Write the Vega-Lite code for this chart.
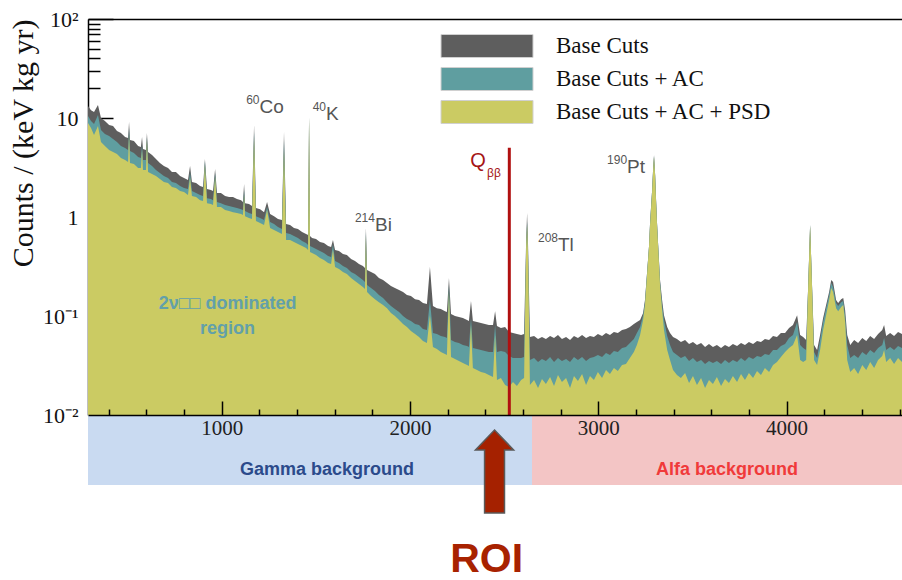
{
  "$schema": "https://vega.github.io/schema/vega-lite/v6.json",
  "padding": {"left": 8, "top": 8, "right": 0, "bottom": 0},
  "spacing": 0,
  "bounds": "flush",
  "config": {"view": {"stroke": null}, "background": "#ffffff"},
  "datasets": {
    "spec": [
      {"E":290,"b":13.2,"a":10.5,"p":8.90},{"E":306,"b":12.0,"a":9.33,"p":7.92},{"E":322,"b":11.5,"a":8.70,"p":6.73},{"E":343,"b":13.5,"a":10.7,"p":8.30},
      {"E":359,"b":10.0,"a":7.56,"p":5.72},{"E":380,"b":9.33,"a":6.89,"p":5.21},{"E":402,"b":8.50,"a":6.58,"p":4.75},{"E":423,"b":8.30,"a":6.13,"p":4.53},
      {"E":444,"b":7.39,"a":5.72,"p":4.33},{"E":465,"b":7.05,"a":5.21,"p":3.94},{"E":487,"b":6.43,"a":4.98,"p":3.76},{"E":503,"b":6.28,"a":4.75,"p":3.59},
      {"E":508,"b":9.11,"a":7.92,"p":6.73},{"E":513,"b":5.99,"a":4.64,"p":3.51},{"E":534,"b":5.86,"a":4.43,"p":3.43},{"E":556,"b":5.21,"a":4.04,"p":3.13},
      {"E":571,"b":5.09,"a":3.94,"p":3.13},{"E":577,"b":6.43,"a":5.34,"p":4.75},{"E":582,"b":4.86,"a":3.76,"p":2.98},{"E":598,"b":4.75,"a":3.76,"p":2.98},
      {"E":603,"b":7.05,"a":6.43,"p":5.99},{"E":609,"b":4.53,"a":3.51,"p":2.85},{"E":630,"b":4.23,"a":3.27,"p":2.72},{"E":651,"b":3.85,"a":2.98,"p":2.60},
      {"E":672,"b":3.51,"a":2.78,"p":2.42},{"E":693,"b":3.27,"a":2.60,"p":2.26},{"E":715,"b":3.13,"a":2.48,"p":2.21},{"E":736,"b":2.85,"a":2.26,"p":2.01},
      {"E":757,"b":2.85,"a":2.21,"p":1.96},{"E":779,"b":2.60,"a":2.06,"p":1.83},{"E":800,"b":2.48,"a":1.96,"p":1.79},{"E":821,"b":2.37,"a":1.92,"p":1.67},
      {"E":832,"b":3.27,"a":2.85,"p":2.48},{"E":842,"b":2.26,"a":1.83,"p":1.63},{"E":864,"b":2.21,"a":1.75,"p":1.59},{"E":885,"b":2.06,"a":1.67,"p":1.48},
      {"E":901,"b":2.01,"a":1.63,"p":1.45},{"E":911,"b":3.85,"a":3.68,"p":3.35},{"E":922,"b":1.92,"a":1.55,"p":1.38},{"E":943,"b":1.87,"a":1.52,"p":1.35},
      {"E":954,"b":1.83,"a":1.48,"p":1.32},{"E":965,"b":3.05,"a":2.78,"p":2.54},{"E":975,"b":1.75,"a":1.42,"p":1.26},{"E":996,"b":1.75,"a":1.38,"p":1.26},
      {"E":1018,"b":1.63,"a":1.32,"p":1.18},{"E":1039,"b":1.59,"a":1.29,"p":1.15},{"E":1060,"b":1.59,"a":1.26,"p":1.12},{"E":1081,"b":1.52,"a":1.23,"p":1.10},
      {"E":1103,"b":1.48,"a":1.20,"p":1.07},{"E":1113,"b":1.42,"a":1.18,"p":1.05},{"E":1119,"b":2.15,"a":1.87,"p":1.67},{"E":1124,"b":1.38,"a":1.15,"p":1.02},
      {"E":1145,"b":1.35,"a":1.10,"p":0.977},{"E":1161,"b":1.29,"a":1.07,"p":0.955},{"E":1172,"b":8.50,"a":7.22,"p":6.28},{"E":1182,"b":1.23,"a":1.02,"p":0.911},
      {"E":1204,"b":1.20,"a":0.977,"p":0.870},{"E":1225,"b":1.12,"a":0.933,"p":0.830},{"E":1241,"b":1.42,"a":1.26,"p":1.18},{"E":1257,"b":1.07,"a":0.890,"p":0.774},
      {"E":1278,"b":1.02,"a":0.850,"p":0.739},{"E":1299,"b":0.955,"a":0.792,"p":0.705},{"E":1320,"b":0.933,"a":0.756,"p":0.673},{"E":1331,"b":7.22,"a":5.99,"p":4.75},
      {"E":1342,"b":0.850,"a":0.689,"p":0.586},{"E":1363,"b":0.830,"a":0.673,"p":0.586},{"E":1384,"b":0.774,"a":0.643,"p":0.559},{"E":1405,"b":0.756,"a":0.613,"p":0.534},
      {"E":1427,"b":0.705,"a":0.572,"p":0.509},{"E":1448,"b":0.673,"a":0.546,"p":0.486},{"E":1459,"b":0.658,"a":0.521,"p":0.464},{"E":1464,"b":10.2,"a":10.2,"p":10.0},
      {"E":1469,"b":0.643,"a":0.509,"p":0.443},{"E":1480,"b":0.613,"a":0.498,"p":0.433},{"E":1501,"b":0.599,"a":0.475,"p":0.413},{"E":1522,"b":0.559,"a":0.453,"p":0.385},
      {"E":1543,"b":0.546,"a":0.433,"p":0.368},{"E":1565,"b":0.509,"a":0.404,"p":0.343},{"E":1581,"b":0.498,"a":0.394,"p":0.335},{"E":1591,"b":0.586,"a":0.534,"p":0.464},
      {"E":1602,"b":0.464,"a":0.359,"p":0.313},{"E":1623,"b":0.453,"a":0.343,"p":0.298},{"E":1644,"b":0.423,"a":0.320,"p":0.278},{"E":1665,"b":0.413,"a":0.305,"p":0.266},
      {"E":1687,"b":0.376,"a":0.278,"p":0.242},{"E":1708,"b":0.359,"a":0.266,"p":0.226},{"E":1729,"b":0.335,"a":0.248,"p":0.210},{"E":1750,"b":0.320,"a":0.231,"p":0.196},
      {"E":1761,"b":0.305,"a":0.221,"p":0.187},{"E":1766,"b":0.774,"a":0.705,"p":0.643},{"E":1772,"b":0.292,"a":0.206,"p":0.175},{"E":1793,"b":0.278,"a":0.192,"p":0.159},
      {"E":1814,"b":0.266,"a":0.179,"p":0.148},{"E":1835,"b":0.242,"a":0.163,"p":0.138},{"E":1857,"b":0.231,"a":0.152,"p":0.129},{"E":1878,"b":0.215,"a":0.138,"p":0.120},
      {"E":1899,"b":0.201,"a":0.126,"p":0.107},{"E":1920,"b":0.192,"a":0.118,"p":0.100},{"E":1942,"b":0.183,"a":0.110,"p":0.0911},{"E":1963,"b":0.175,"a":0.100,"p":0.0830},
      {"E":1984,"b":0.163,"a":0.0933,"p":0.0774},{"E":2005,"b":0.159,"a":0.0890,"p":0.0705},{"E":2027,"b":0.148,"a":0.0830,"p":0.0658},{"E":2048,"b":0.145,"a":0.0811,"p":0.0613},
      {"E":2069,"b":0.135,"a":0.0739,"p":0.0559},{"E":2090,"b":0.132,"a":0.0722,"p":0.0534},{"E":2106,"b":0.313,"a":0.145,"p":0.102},{"E":2122,"b":0.126,"a":0.0673,"p":0.0486},
      {"E":2143,"b":0.120,"a":0.0658,"p":0.0464},{"E":2164,"b":0.118,"a":0.0628,"p":0.0433},{"E":2186,"b":0.112,"a":0.0613,"p":0.0413},{"E":2196,"b":0.110,"a":0.0599,"p":0.0404},
      {"E":2207,"b":0.242,"a":0.206,"p":0.175},{"E":2218,"b":0.105,"a":0.0572,"p":0.0385},{"E":2239,"b":0.100,"a":0.0546,"p":0.0368},{"E":2260,"b":0.0977,"a":0.0534,"p":0.0351},
      {"E":2281,"b":0.0955,"a":0.0509,"p":0.0335},{"E":2303,"b":0.0911,"a":0.0498,"p":0.0320},{"E":2313,"b":0.0890,"a":0.0486,"p":0.0313},{"E":2324,"b":0.142,"a":0.0955,"p":0.0811},
      {"E":2334,"b":0.0890,"a":0.0475,"p":0.0298},{"E":2356,"b":0.0870,"a":0.0464,"p":0.0285},{"E":2377,"b":0.0850,"a":0.0453,"p":0.0272},{"E":2398,"b":0.0830,"a":0.0443,"p":0.0266},
      {"E":2419,"b":0.0811,"a":0.0433,"p":0.0254},{"E":2441,"b":0.0811,"a":0.0433,"p":0.0242},{"E":2452,"b":0.112,"a":0.0811,"p":0.0643},{"E":2462,"b":0.0792,"a":0.0433,"p":0.0226},
      {"E":2483,"b":0.0756,"a":0.0443,"p":0.0237},{"E":2505,"b":0.0774,"a":0.0433,"p":0.0201},{"E":2526,"b":0.0689,"a":0.0394,"p":0.0192},{"E":2547,"b":0.0673,"a":0.0376,"p":0.0215},
      {"E":2568,"b":0.0658,"a":0.0376,"p":0.0196},{"E":2590,"b":0.0643,"a":0.0376,"p":0.0226},{"E":2606,"b":0.0658,"a":0.0385,"p":0.0237},{"E":2617,"b":0.586,"a":0.521,"p":0.486},
      {"E":2622,"b":1.10,"a":0.890,"p":0.830},{"E":2627,"b":0.521,"a":0.464,"p":0.413},{"E":2637,"b":0.0613,"a":0.0359,"p":0.0201},{"E":2659,"b":0.0628,"a":0.0376,"p":0.0226},
      {"E":2680,"b":0.0586,"a":0.0343,"p":0.0187},{"E":2701,"b":0.0613,"a":0.0368,"p":0.0231},{"E":2722,"b":0.0586,"a":0.0351,"p":0.0206},{"E":2744,"b":0.0628,"a":0.0385,"p":0.0242},
      {"E":2765,"b":0.0599,"a":0.0343,"p":0.0196},{"E":2786,"b":0.0643,"a":0.0376,"p":0.0254},{"E":2807,"b":0.0586,"a":0.0351,"p":0.0215},{"E":2829,"b":0.0613,"a":0.0368,"p":0.0237},
      {"E":2850,"b":0.0572,"a":0.0343,"p":0.0187},{"E":2871,"b":0.0628,"a":0.0385,"p":0.0248},{"E":2892,"b":0.0599,"a":0.0359,"p":0.0221},{"E":2914,"b":0.0643,"a":0.0385,"p":0.0260},
      {"E":2935,"b":0.0599,"a":0.0351,"p":0.0201},{"E":2956,"b":0.0628,"a":0.0376,"p":0.0248},{"E":2977,"b":0.0613,"a":0.0385,"p":0.0226},{"E":2998,"b":0.0658,"a":0.0404,"p":0.0272},
      {"E":3020,"b":0.0628,"a":0.0385,"p":0.0237},{"E":3041,"b":0.0673,"a":0.0423,"p":0.0285},{"E":3062,"b":0.0643,"a":0.0404,"p":0.0260},{"E":3083,"b":0.0689,"a":0.0443,"p":0.0298},
      {"E":3104,"b":0.0673,"a":0.0433,"p":0.0278},{"E":3126,"b":0.0722,"a":0.0475,"p":0.0320},{"E":3147,"b":0.0739,"a":0.0486,"p":0.0327},{"E":3168,"b":0.0774,"a":0.0534,"p":0.0376},
      {"E":3189,"b":0.0830,"a":0.0586,"p":0.0433},{"E":3205,"b":0.0870,"a":0.0673,"p":0.0509},{"E":3222,"b":0.0911,"a":0.0774,"p":0.0643},{"E":3238,"b":0.107,"a":0.102,"p":0.0911},
      {"E":3248,"b":0.145,"a":0.138,"p":0.129},{"E":3259,"b":0.272,"a":0.272,"p":0.260},{"E":3270,"b":0.521,"a":0.521,"p":0.521},{"E":3275,"b":0.870,"a":0.870,"p":0.830},
      {"E":3286,"b":1.87,"a":1.87,"p":1.79},{"E":3291,"b":2.98,"a":2.98,"p":2.85},{"E":3296,"b":4.23,"a":4.13,"p":4.04},{"E":3302,"b":2.66,"a":2.66,"p":2.54},
      {"E":3307,"b":1.48,"a":1.48,"p":1.42},{"E":3312,"b":0.870,"a":0.870,"p":0.830},{"E":3318,"b":0.521,"a":0.521,"p":0.498},{"E":3328,"b":0.231,"a":0.221,"p":0.206},
      {"E":3339,"b":0.145,"a":0.129,"p":0.115},{"E":3349,"b":0.102,"a":0.0911,"p":0.0722},{"E":3366,"b":0.0774,"a":0.0628,"p":0.0453},{"E":3381,"b":0.0673,"a":0.0509,"p":0.0359},
      {"E":3397,"b":0.0613,"a":0.0433,"p":0.0285},{"E":3418,"b":0.0586,"a":0.0404,"p":0.0254},{"E":3439,"b":0.0546,"a":0.0376,"p":0.0237},{"E":3461,"b":0.0572,"a":0.0394,"p":0.0266},
      {"E":3482,"b":0.0521,"a":0.0351,"p":0.0210},{"E":3503,"b":0.0546,"a":0.0376,"p":0.0248},{"E":3524,"b":0.0509,"a":0.0343,"p":0.0201},{"E":3546,"b":0.0534,"a":0.0359,"p":0.0237},
      {"E":3567,"b":0.0486,"a":0.0327,"p":0.0187},{"E":3588,"b":0.0521,"a":0.0351,"p":0.0226},{"E":3609,"b":0.0486,"a":0.0335,"p":0.0206},{"E":3630,"b":0.0509,"a":0.0351,"p":0.0242},
      {"E":3652,"b":0.0475,"a":0.0327,"p":0.0196},{"E":3673,"b":0.0509,"a":0.0359,"p":0.0231},{"E":3694,"b":0.0486,"a":0.0335,"p":0.0210},{"E":3715,"b":0.0521,"a":0.0359,"p":0.0248},
      {"E":3737,"b":0.0498,"a":0.0343,"p":0.0215},{"E":3758,"b":0.0534,"a":0.0376,"p":0.0260},{"E":3779,"b":0.0509,"a":0.0351,"p":0.0226},{"E":3800,"b":0.0546,"a":0.0385,"p":0.0266},
      {"E":3822,"b":0.0521,"a":0.0368,"p":0.0237},{"E":3843,"b":0.0559,"a":0.0394,"p":0.0278},{"E":3864,"b":0.0546,"a":0.0385,"p":0.0254},{"E":3885,"b":0.0586,"a":0.0413,"p":0.0298},
      {"E":3907,"b":0.0572,"a":0.0404,"p":0.0272},{"E":3928,"b":0.0628,"a":0.0453,"p":0.0320},{"E":3949,"b":0.0613,"a":0.0453,"p":0.0343},{"E":3970,"b":0.0673,"a":0.0498,"p":0.0385},
      {"E":3992,"b":0.0673,"a":0.0521,"p":0.0433},{"E":4013,"b":0.0756,"a":0.0599,"p":0.0475},{"E":4034,"b":0.0811,"a":0.0643,"p":0.0509},{"E":4056,"b":0.102,"a":0.0870,"p":0.0643},
      {"E":4072,"b":0.0643,"a":0.0509,"p":0.0359},{"E":4088,"b":0.0613,"a":0.0475,"p":0.0343},{"E":4104,"b":0.0572,"a":0.0453,"p":0.0359},{"E":4114,"b":0.183,"a":0.183,"p":0.175},
      {"E":4125,"b":0.830,"a":0.830,"p":0.811},{"E":4136,"b":0.183,"a":0.183,"p":0.175},{"E":4146,"b":0.0509,"a":0.0433,"p":0.0359},{"E":4162,"b":0.0453,"a":0.0376,"p":0.0320},
      {"E":4178,"b":0.0643,"a":0.0572,"p":0.0453},{"E":4194,"b":0.0955,"a":0.0870,"p":0.0722},{"E":4210,"b":0.129,"a":0.120,"p":0.102},{"E":4226,"b":0.175,"a":0.163,"p":0.145},
      {"E":4237,"b":0.231,"a":0.216,"p":0.192},{"E":4247,"b":0.221,"a":0.196,"p":0.175},{"E":4263,"b":0.145,"a":0.135,"p":0.120},{"E":4274,"b":0.135,"a":0.126,"p":0.112},
      {"E":4290,"b":0.148,"a":0.138,"p":0.123},{"E":4301,"b":0.152,"a":0.142,"p":0.129},{"E":4311,"b":0.115,"a":0.100,"p":0.0870},{"E":4322,"b":0.0643,"a":0.0509,"p":0.0359},
      {"E":4338,"b":0.0509,"a":0.0376,"p":0.0272},{"E":4359,"b":0.0572,"a":0.0404,"p":0.0298},{"E":4380,"b":0.0534,"a":0.0376,"p":0.0260},{"E":4402,"b":0.0599,"a":0.0433,"p":0.0320},
      {"E":4423,"b":0.0559,"a":0.0404,"p":0.0285},{"E":4444,"b":0.0628,"a":0.0453,"p":0.0343},{"E":4465,"b":0.0586,"a":0.0423,"p":0.0298},{"E":4486,"b":0.0658,"a":0.0475,"p":0.0359},
      {"E":4508,"b":0.0722,"a":0.0509,"p":0.0394},{"E":4518,"b":0.0811,"a":0.0599,"p":0.0453},{"E":4529,"b":0.0628,"a":0.0453,"p":0.0343},{"E":4550,"b":0.0673,"a":0.0486,"p":0.0376},
      {"E":4571,"b":0.0628,"a":0.0453,"p":0.0327},{"E":4592,"b":0.0689,"a":0.0498,"p":0.0376},{"E":4613,"b":0.0658,"a":0.0475,"p":0.0343}
    ],
    "isotopes": [
      {"mass":"60","el":"Co","E":1201,"v":12.9},
      {"mass":"40","el":"K","E":1554,"v":11.0},
      {"mass":"214","el":"Bi","E":1814,"v":0.830},
      {"mass":"208","el":"Tl","E":2786,"v":0.521},
      {"mass":"190","el":"Pt","E":3153,"v":3.20}
    ],
    "regions": [
      {"region":"Gamma background","start":290,"end":2648,"mid":1559},
      {"region":"Alfa background","start":2648,"end":4613,"mid":3684}
    ]
  },
  "vconcat": [
    {
      "width": 814,
      "height": 396,
      "layer": [
        {
          "data": {"name": "spec"},
          "mark": {"type": "area", "clip": true, "interpolate": "linear"},
          "encoding": {
            "x": {"field": "E", "type": "quantitative",
              "scale": {"domain": [290, 4613], "nice": false, "zero": false},
              "axis": {"orient": "top", "ticks": false, "labels": false, "domain": true, "domainColor": "#000000", "domainWidth": 1.5, "grid": false, "title": null}},
            "y": {"field": "b", "type": "quantitative",
              "scale": {"type": "log", "domain": [0.01, 100], "nice": false},
              "axis": {"orient": "left", "values": [0.01, 0.1, 1, 10, 100], "ticks": false,
                "labelExpr": "datum.value >= 99 ? '10²' : datum.value >= 9 ? '10' : datum.value >= 0.9 ? '1' : datum.value >= 0.09 ? '10⁻¹' : '10⁻²'",
                "labelFont": "Liberation Serif", "labelFontSize": 22, "labelColor": "#111111", "labelPadding": 10,
                "domain": true, "domainColor": "#000000", "domainWidth": 1.5, "grid": false,
                "title": "Counts / (keV kg yr)", "titleFont": "Liberation Serif", "titleFontSize": 30, "titleFontWeight": "normal",
                "titleColor": "#111111", "titleAnchor": "end", "titlePadding": 4}},
            "y2": {"datum": 0.01},
            "color": {"datum": "Base Cuts", "type": "nominal",
              "scale": {"domain": ["Base Cuts", "Base Cuts + AC", "Base Cuts + AC + PSD"], "range": ["#5e5e5e", "#5f9ea0", "#cbcb63"]},
              "legend": {"orient": "none", "legendX": 387, "legendY": 15, "title": null, "direction": "vertical",
                "symbolType": "M-4,-1H4V1H-4Z", "symbolSize": 529, "symbolStrokeColor": "#d0d0d0", "symbolStrokeWidth": 1, "symbolOpacity": 1,
                "labelFont": "Liberation Serif", "labelFontSize": 23, "labelColor": "#111111", "labelOffset": 57, "rowPadding": 5, "padding": 0, "labelLimit": 0}}
          }
        },
        {
          "data": {"name": "spec"},
          "mark": {"type": "area", "clip": true, "interpolate": "linear"},
          "encoding": {
            "x": {"field": "E", "type": "quantitative"},
            "y": {"field": "a", "type": "quantitative",
              "axis": {"orient": "left", "values": [0.01, 0.1, 1, 10, 100], "tickSize": -25, "tickColor": "#000000", "tickWidth": 1.5, "labels": false, "domain": false, "grid": false, "title": null}},
            "y2": {"datum": 0.01},
            "color": {"datum": "Base Cuts + AC", "type": "nominal"}
          }
        },
        {
          "data": {"name": "spec"},
          "mark": {"type": "area", "clip": true, "interpolate": "linear"},
          "encoding": {
            "x": {"field": "E", "type": "quantitative"},
            "y": {"field": "p", "type": "quantitative",
              "axis": {"orient": "left", "values": [0.02,0.03,0.04,0.05,0.06,0.07,0.08,0.09,0.2,0.3,0.4,0.5,0.6,0.7,0.8,0.9,2,3,4,5,6,7,8,9,20,30,40,50,60,70,80,90], "tickSize": -12, "tickColor": "#000000", "tickWidth": 1.5, "labels": false, "domain": false, "grid": false, "title": null}},
            "y2": {"datum": 0.01},
            "color": {"datum": "Base Cuts + AC + PSD", "type": "nominal"}
          }
        },
        {
          "data": {"values": [{"E": 2527.5, "top": 5.0}]},
          "mark": {"type": "rule", "color": "#b01010", "strokeWidth": 3},
          "encoding": {
            "x": {"field": "E", "type": "quantitative"},
            "y": {"field": "top", "type": "quantitative", "axis": null},
            "y2": {"datum": 0.01}
          }
        },
        {
          "data": {"name": "isotopes"},
          "mark": {"type": "text", "font": "Liberation Sans", "fontSize": 19, "color": "#555555", "align": "left", "baseline": "middle"},
          "encoding": {
            "x": {"field": "E", "type": "quantitative"},
            "y": {"field": "v", "type": "quantitative", "axis": null},
            "text": {"field": "el"}
          }
        },
        {
          "data": {"name": "isotopes"},
          "mark": {"type": "text", "font": "Liberation Sans", "fontSize": 12, "color": "#555555", "align": "right", "baseline": "middle", "dy": -7},
          "encoding": {
            "x": {"field": "E", "type": "quantitative"},
            "y": {"field": "v", "type": "quantitative", "axis": null},
            "text": {"field": "mass"}
          }
        },
        {
          "data": {"values": [{"t": "Q", "E": 2361, "v": 3.68}]},
          "mark": {"type": "text", "font": "Liberation Sans", "fontSize": 20, "color": "#a51515", "align": "center", "baseline": "middle"},
          "encoding": {
            "x": {"field": "E", "type": "quantitative"},
            "y": {"field": "v", "type": "quantitative", "axis": null},
            "text": {"field": "t"}
          }
        },
        {
          "data": {"values": [{"t": "ββ", "E": 2446, "v": 2.78}]},
          "mark": {"type": "text", "font": "Liberation Sans", "fontSize": 12, "color": "#a51515", "align": "center", "baseline": "middle"},
          "encoding": {
            "x": {"field": "E", "type": "quantitative"},
            "y": {"field": "v", "type": "quantitative", "axis": null},
            "text": {"field": "t"}
          }
        },
        {
          "data": {"values": [{"t": "2ν□□ dominated", "E": 1031, "v": 0.132}, {"t": "region", "E": 1031, "v": 0.0739}]},
          "mark": {"type": "text", "font": "Liberation Sans", "fontSize": 18, "fontWeight": "bold", "color": "#62a0aa", "align": "center", "baseline": "middle"},
          "encoding": {
            "x": {"field": "E", "type": "quantitative"},
            "y": {"field": "v", "type": "quantitative", "axis": null},
            "text": {"field": "t"}
          }
        }
      ],
      "resolve": {"axis": {"y": "independent"}}
    },
    {
      "width": 814,
      "height": 165,
      "layer": [
        {
          "data": {"name": "regions"},
          "transform": [{"filter": "datum.region === 'Gamma background'"}],
          "mark": {"type": "rect", "color": "#c9daf1"},
          "encoding": {
            "x": {"field": "start", "type": "quantitative",
              "scale": {"domain": [290, 4613], "nice": false, "zero": false},
              "axis": {"orient": "top", "values": [1000, 2000, 3000, 4000], "format": "d", "tickSize": 14, "tickWidth": 1.5, "tickColor": "#000000",
                "labelFont": "Liberation Serif", "labelFontSize": 21, "labelColor": "#222222", "labelPadding": -27, "labelBaseline": "middle",
                "domain": true, "domainColor": "#000000", "domainWidth": 1.5, "grid": false, "title": null, "zindex": 1}},
            "x2": {"field": "end"},
            "y": {"datum": 0, "type": "quantitative", "scale": {"domain": [0, 16.5], "reverse": true, "nice": false, "zero": false}, "axis": null},
            "y2": {"datum": 7}
          }
        },
        {
          "data": {"name": "regions"},
          "transform": [{"filter": "datum.region === 'Alfa background'"}],
          "mark": {"type": "rect", "color": "#f3c5c5"},
          "encoding": {
            "x": {"field": "start", "type": "quantitative",
              "axis": {"orient": "top", "values": [400,600,800,1200,1400,1600,1800,2200,2400,2600,2800,3200,3400,3600,3800,4200,4400,4600], "tickSize": 6, "tickWidth": 1.5, "tickColor": "#000000",
                "labels": false, "domain": false, "grid": false, "title": null, "zindex": 1}},
            "x2": {"field": "end"},
            "y": {"datum": 0, "type": "quantitative", "axis": null},
            "y2": {"datum": 7}
          }
        },
        {
          "data": {"name": "regions"},
          "transform": [{"filter": "datum.region === 'Gamma background'"}],
          "mark": {"type": "text", "font": "Liberation Sans", "fontSize": 18, "fontWeight": "bold", "color": "#2b4a8b", "align": "center", "baseline": "middle"},
          "encoding": {
            "x": {"field": "mid", "type": "quantitative", "axis": null},
            "y": {"datum": 5.5, "type": "quantitative", "axis": null},
            "text": {"field": "region"}
          }
        },
        {
          "data": {"name": "regions"},
          "transform": [{"filter": "datum.region === 'Alfa background'"}],
          "mark": {"type": "text", "font": "Liberation Sans", "fontSize": 18, "fontWeight": "bold", "color": "#f03a3a", "align": "center", "baseline": "middle"},
          "encoding": {
            "x": {"field": "mid", "type": "quantitative", "axis": null},
            "y": {"datum": 5.5, "type": "quantitative", "axis": null},
            "text": {"field": "region"}
          }
        },
        {
          "data": {"values": [{"E": 2449}]},
          "mark": {"type": "point", "shape": "M0,-1L0.46,-0.52L0.24,-0.52L0.24,1L-0.24,1L-0.24,-0.52L-0.46,-0.52Z", "size": 6889, "filled": true, "fill": "#a52100", "stroke": "#5a5a5a", "strokeWidth": 1.5, "opacity": 1},
          "encoding": {
            "x": {"field": "E", "type": "quantitative", "axis": null},
            "y": {"datum": 5.65, "type": "quantitative", "axis": null}
          }
        },
        {
          "data": {"values": [{"t": "ROI", "E": 2407}]},
          "mark": {"type": "text", "font": "Liberation Sans", "fontSize": 41, "fontWeight": "bold", "color": "#a82200", "align": "center", "baseline": "middle"},
          "encoding": {
            "x": {"field": "E", "type": "quantitative", "axis": null},
            "y": {"datum": 14.5, "type": "quantitative", "axis": null},
            "text": {"field": "t"}
          }
        }
      ],
      "resolve": {"axis": {"x": "independent"}}
    }
  ]
}
